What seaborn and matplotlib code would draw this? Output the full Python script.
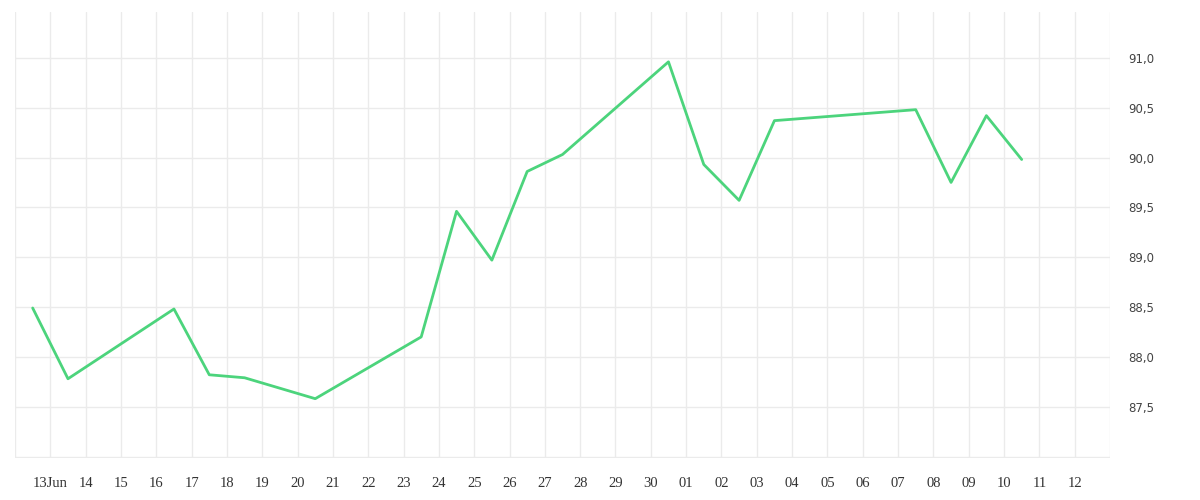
import pandas as pd
import numpy as np
import matplotlib.pyplot as plt
import matplotlib.ticker as plticker
import seaborn as sb

# daily closing values (weekends / holidays skipped)
dates = ['2024-06-12', '2024-06-13', '2024-06-16', '2024-06-17', '2024-06-18',
         '2024-06-20', '2024-06-23', '2024-06-24', '2024-06-25', '2024-06-26',
         '2024-06-27', '2024-06-30', '2024-07-01', '2024-07-02', '2024-07-03',
         '2024-07-07', '2024-07-08', '2024-07-09', '2024-07-10']
values = [88.49, 87.78, 88.48, 87.82, 87.79,
          87.58, 88.20, 89.46, 88.97, 89.86,
          90.03, 90.96, 89.93, 89.57, 90.37,
          90.48, 89.75, 90.42, 89.98]

tick_days = pd.date_range('2024-06-12', '2024-07-13', freq='D')
tick_labels = [''] + ['13Jun'] + [d.strftime('%d') for d in tick_days[2:-1]] + ['']
ytick_values = [87.0, 87.5, 88.0, 88.5, 89.0, 89.5, 90.0, 90.5, 91.0]
ytick_labels = [''] + [f'{v:.1f}'.replace('.', ',') for v in ytick_values[1:]]

myData = pd.DataFrame({'date': pd.to_datetime(dates) + pd.Timedelta(hours=12),
                       'value': values})

sb.set_style('white')
grid_col = '#ebebeb'

fig = plt.figure(figsize=(12, 5), dpi=100)
ax = fig.add_axes([0.0125, 0.084, 0.9125, 0.892])

sb.lineplot(x='date', y='value', data=myData, ax=ax,
            color='#4cd47c', linewidth=2.0)

ax.set_xlim(tick_days[0], tick_days[-1])
ax.set_ylim(86.985, 91.46)
ax.yaxis.tick_right()

ax.set_xticks(tick_days)
ax.set_xticklabels(tick_labels, fontfamily='Liberation Serif', fontsize=10.5,
                   color='#333333')
ax.set_yticks(ytick_values)
ax.set_yticklabels(ytick_labels, fontfamily='DejaVu Sans', fontsize=8.5,
                   color='#444444')

ax.tick_params(axis='y', length=0, pad=13)
ax.tick_params(axis='x', length=7.5, width=1, color=grid_col, pad=6)

ax.grid(True, color=grid_col, linewidth=1)
for s in ax.spines.values():
    s.set_visible(False)

ax.set_xlabel('')
ax.set_ylabel('')

plt.savefig('out.png', dpi=100)
